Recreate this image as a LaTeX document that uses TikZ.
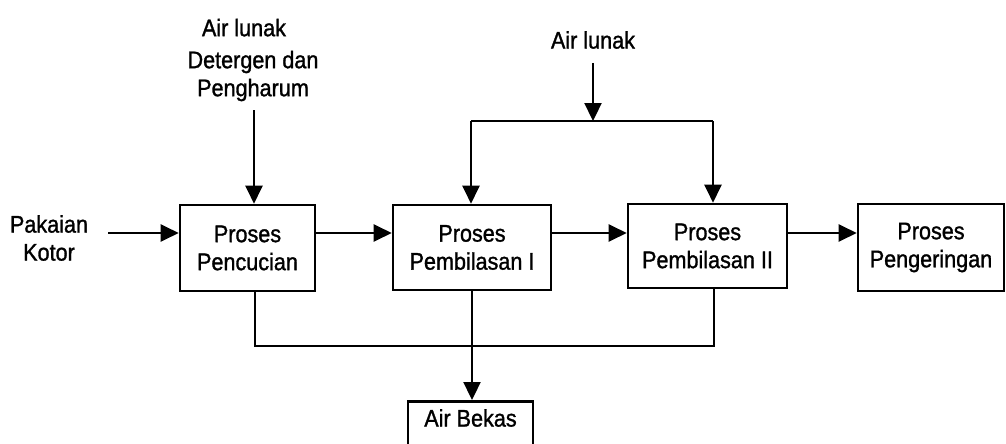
\documentclass[tikz,border=0pt]{standalone}
\usepackage{fontspec}
\setmainfont{Liberation Sans}[FakeStretch=0.9,FakeBold=1.2]
\usetikzlibrary{arrows.meta,calc}
\begin{document}
\begin{tikzpicture}[x=1pt,y=-1pt,
  every node/.style={font=\fontsize{24}{28}\selectfont},
  procbox/.style={draw,line width=2.6pt,align=center,inner sep=0pt},
  lbl/.style={align=center,inner sep=0pt},
  conn/.style={line width=2.3pt},
  arr/.style={conn,-{Triangle[length=18pt,width=17pt]}}]
\useasboundingbox (0,0) rectangle (1006,444);
\begin{scope}
\clip (0,0) rectangle (1006,444);
\node[procbox,minimum width=135pt,minimum height=86pt] (b1) at (247.5,248) {Proses\\Pencucian};
\node[procbox,minimum width=158pt,minimum height=85pt] (b2) at (472,247.5) {Proses\\Pembilasan I};
\node[procbox,minimum width=159pt,minimum height=84pt] (b3) at (707.5,246) {Proses\\Pembilasan II};
\node[procbox,minimum width=146pt,minimum height=87pt] (b4) at (931,247.5) {Proses\\Pengeringan};
\node[procbox,minimum width=125pt,minimum height=60pt,anchor=north] (ab) at (470.5,400) {};
\node[lbl] (abt) at (470.5,418) {Air Bekas};
\end{scope}

\node[lbl] (pk) at (49,238) {Pakaian\\Kotor};
\node[lbl] (top1) at (253,60) {Air lunak\hspace*{18pt}\\[4pt]Detergen dan\\Pengharum};
\node[lbl] (top2) at (593,40) {Air lunak};

\coordinate (r) at (0,233);
\coordinate (pks) at (108,233);
\coordinate (t1s) at (254,110);
\coordinate (t2s) at (593,63);
\coordinate (sp) at (593,121);
\coordinate (sl) at (471,121);
\coordinate (sr) at (713,121);
\coordinate (bl) at (255,346);
\coordinate (bm) at (472,346);
\coordinate (br) at (714,346);

\draw[arr] (pks) -- (b1.west |- pks);
\draw[arr] (b1.east |- r) -- (b2.west |- r);
\draw[arr] (b2.east |- r) -- (b3.west |- r);
\draw[arr] (b3.east |- r) -- (b4.west |- r);

\draw[arr] (t1s) -- (t1s |- b1.north);
\draw[arr] (t2s) -- (sp);
\draw[conn] (sl) -- (sr);
\draw[arr] (sl) -- (sl |- b2.north);
\draw[arr] (sr) -- (sr |- b3.north);

\draw[conn] (bl |- b1.south) -- (bl) -- (br) -- (br |- b3.south);
\draw[arr] (bm |- b2.south) -- (bm |- ab.north);
\end{tikzpicture}
\end{document}
